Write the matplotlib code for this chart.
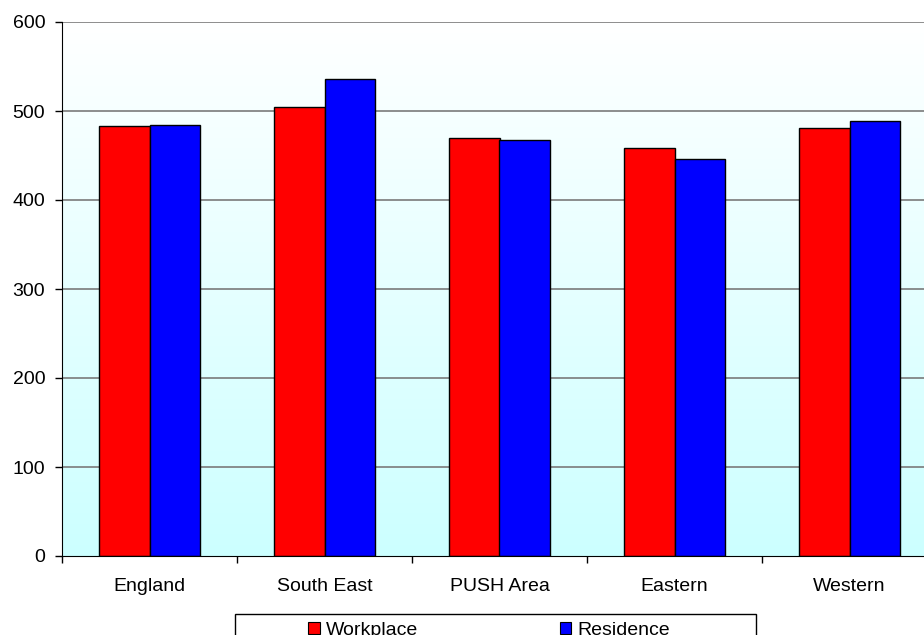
import matplotlib
matplotlib.use("Agg")
import matplotlib.pyplot as plt
from matplotlib.patches import Rectangle, Patch
import numpy as np

plt.rcParams['font.family'] = ['Liberation Sans', 'DejaVu Sans']

areas = ["England", "South East", "PUSH Area", "Eastern", "Western"]
workplace = [483, 505, 470, 458, 481]
residence = [484, 536, 467, 446, 489]
yticks = [0, 100, 200, 300, 400, 500, 600]

W, H = 924, 635
fig = plt.figure(figsize=(W / 100, H / 100), dpi=100)
# axes spans past right edge of the picture, like the original crop
ax = fig.add_axes([62 / W, 1 - 556 / H, 875 / W, 534 / H])

n = len(areas)
x = np.arange(n)
bw = 0.286

# white -> pale cyan background gradient
grad = np.linspace(0, 1, 256).reshape(-1, 1)
top = np.array([1.0, 1.0, 1.0])
bot = np.array([204, 255, 255]) / 255
img = top * (1 - grad[..., None]) + bot * grad[..., None]
img = img.reshape(256, 1, 3)
ax.imshow(img, extent=[-0.5, n - 0.5, 0, 600], aspect='auto', zorder=0, origin='upper')

for yv in yticks[1:]:
    ax.axhline(yv, color='#7a7a7a', lw=1.2, zorder=1)

ax.bar(x - bw / 2, workplace, bw, color='#FF0000', edgecolor='black', lw=1, zorder=2, label='Workplace')
ax.bar(x + bw / 2, residence, bw, color='#0000FF', edgecolor='black', lw=1, zorder=2, label='Residence')

ax.set_xlim(-0.5, n - 0.5)
ax.set_ylim(0, 600)
ax.set_yticks(yticks)
ax.set_xticks(np.arange(n + 1) - 0.5)
ax.set_xticklabels([])
ax.set_xticks(x, minor=True)
ax.set_xticklabels(areas, minor=True)
ax.tick_params(axis='x', which='major', length=5, width=1, direction='out')
ax.tick_params(axis='x', which='minor', length=0, pad=15.5, labelsize=14)
ax.tick_params(axis='y', length=5, width=1, direction='out', pad=7, labelsize=14)

for s in ['top', 'right']:
    ax.spines[s].set_visible(False)
ax.spines['left'].set_color('black')
ax.spines['bottom'].set_color('black')

# legend frame, cut off at bottom of picture
fig.patches.append(Rectangle((235 / W, 1 - 660 / H), (756 - 235) / W, 46 / H,
                             transform=fig.transFigure, facecolor='white',
                             edgecolor='black', lw=1))
handles = [Patch(facecolor='#FF0000', edgecolor='black', lw=0.8),
           Patch(facecolor='#0000FF', edgecolor='black', lw=0.8)]
fig.legend(handles, ['Workplace', 'Residence'], loc='upper center',
           bbox_to_anchor=(489 / W, 1 - 608 / H), ncol=2, frameon=False,
           fontsize=14, handlelength=0.6, handleheight=0.6, handletextpad=0.3,
           columnspacing=7.3, borderpad=0.2)

fig.savefig("out.png", dpi=100)
